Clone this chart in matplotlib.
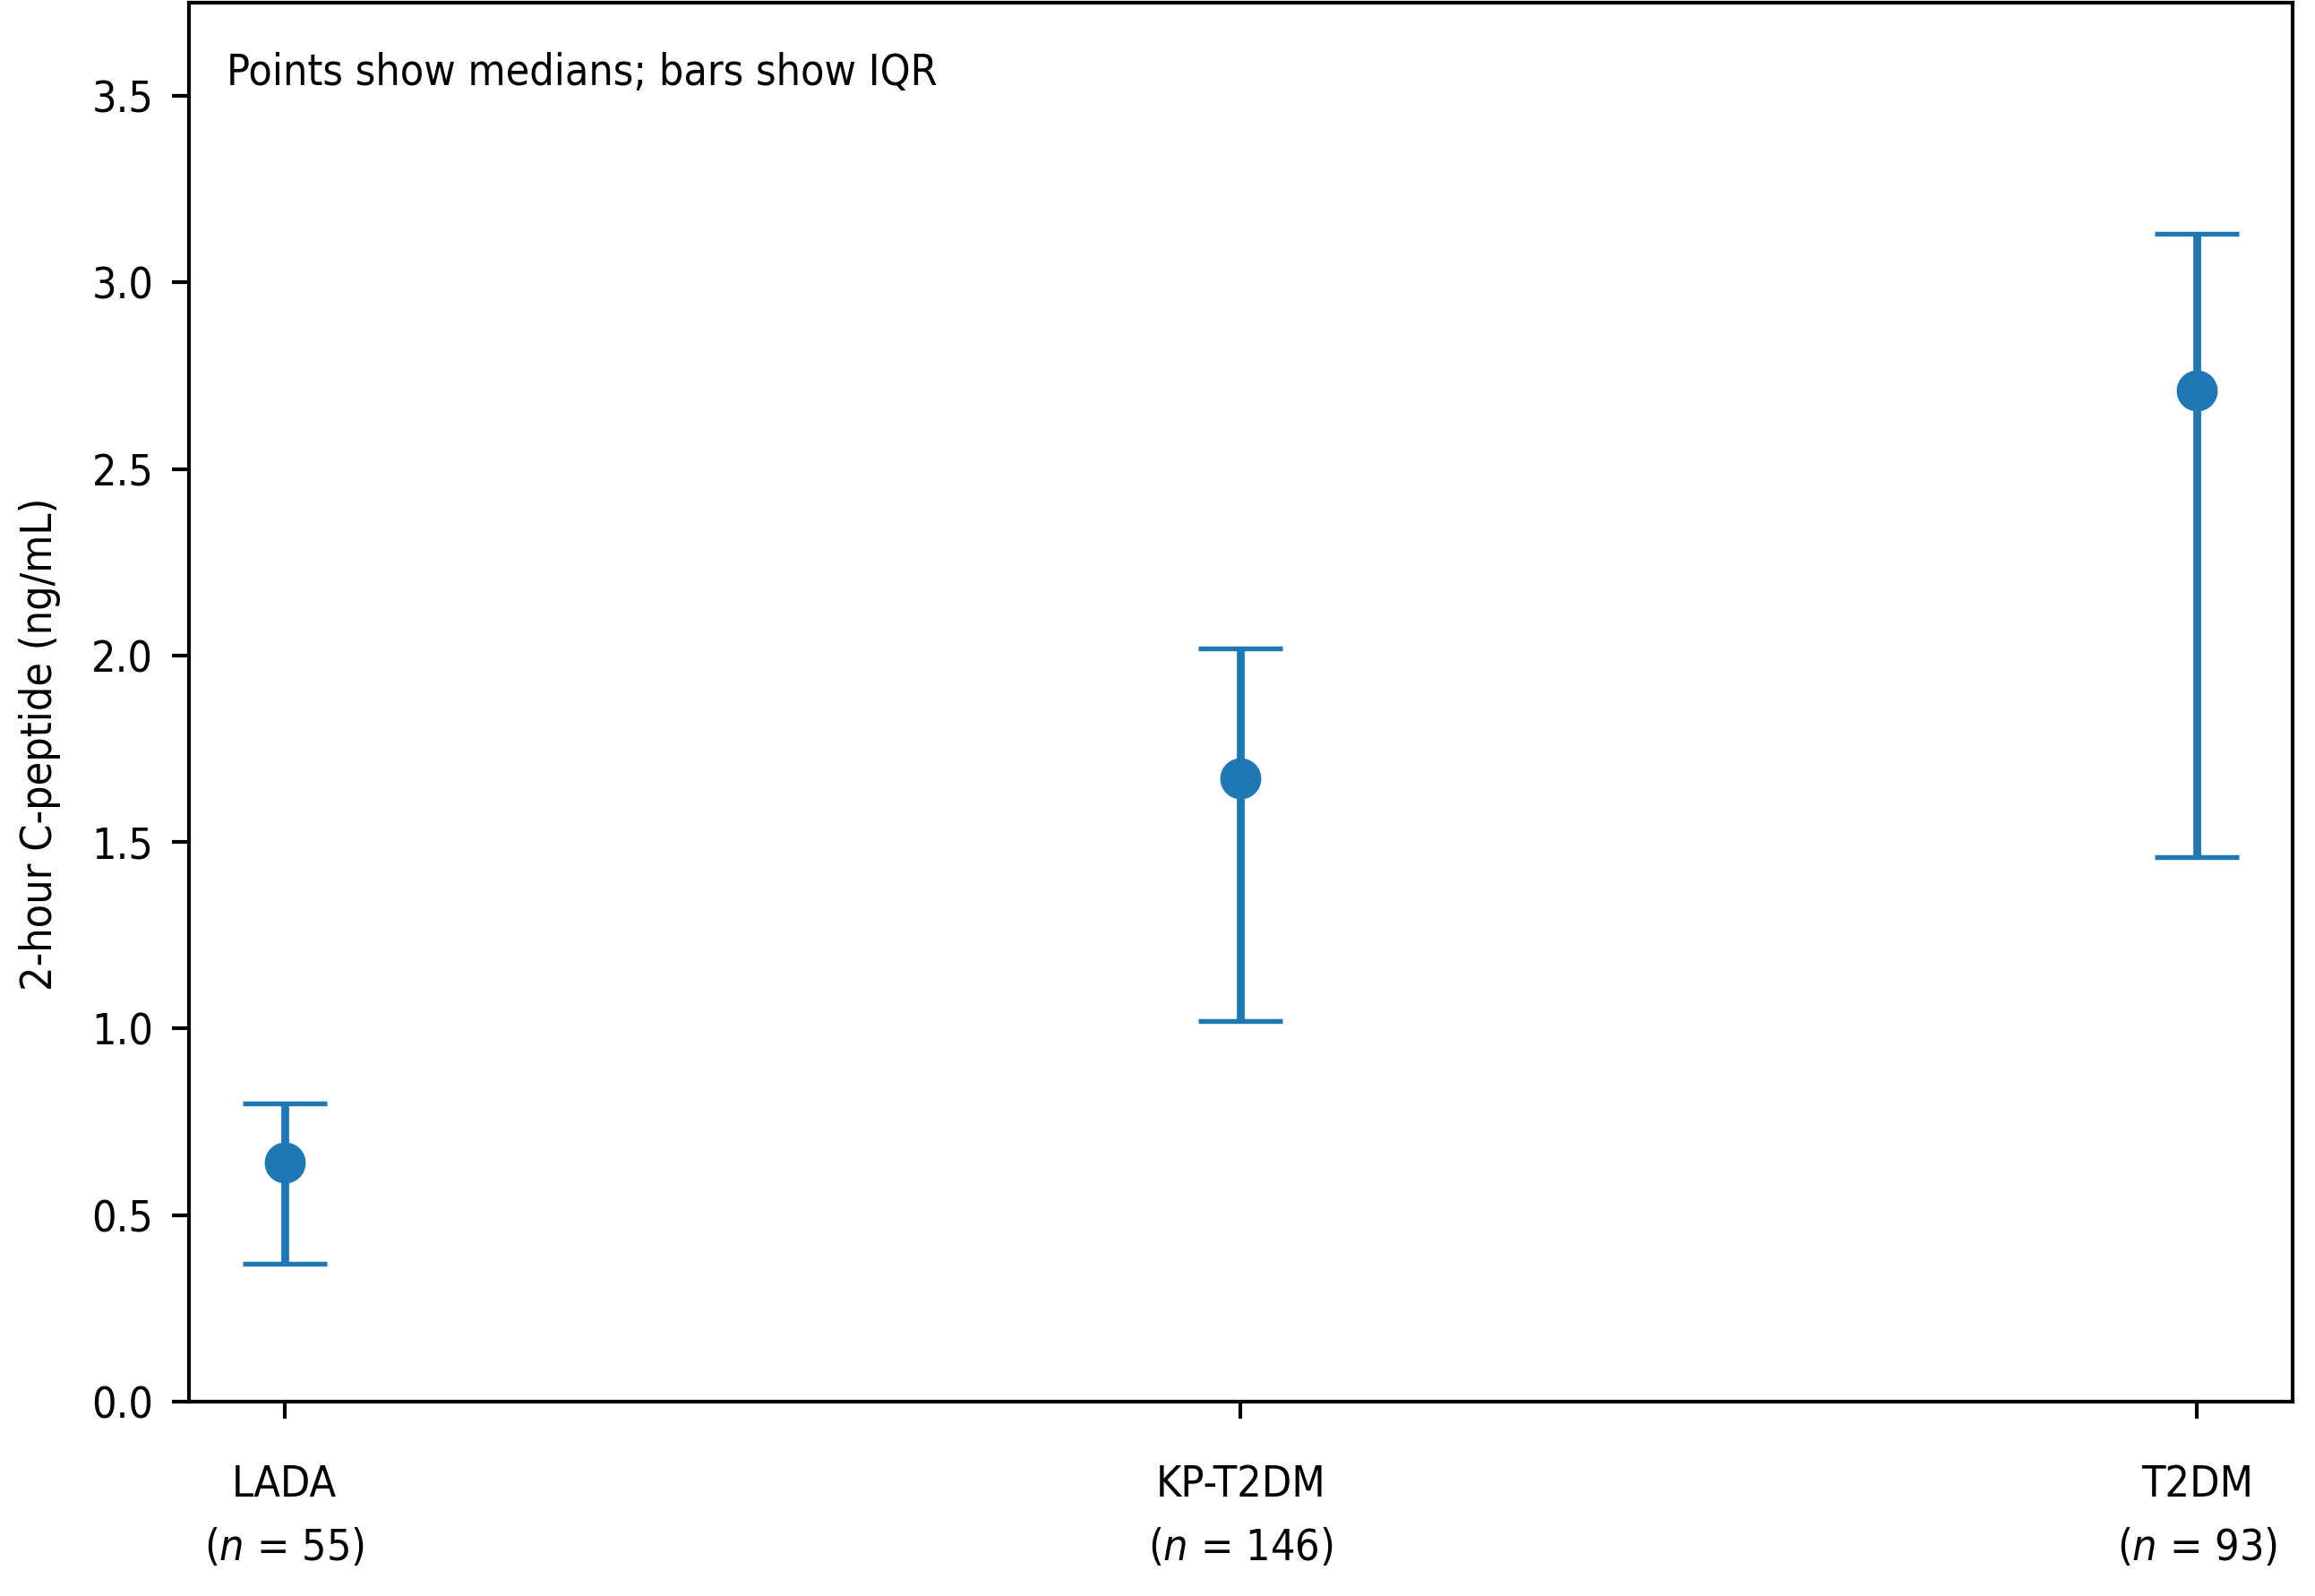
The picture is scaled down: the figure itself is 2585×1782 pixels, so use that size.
import numpy as np
import matplotlib
matplotlib.use('Agg')
from matplotlib import pyplot as plt

# data (medians and interquartile ranges, ng/mL)
groups = ['LADA', 'KP-T2DM', 'T2DM']
group_sizes = [55, 146, 93]
medians = [0.64, 1.67, 2.71]
q1_values = [0.37, 1.02, 1.46]
q3_values = [0.80, 2.02, 3.13]

COLOR = '#1f77b4'

plt.rcParams['font.family'] = ['DejaVu Sans']
plt.rcParams['font.stretch'] = 'condensed'
plt.rcParams['font.size'] = 11.6
plt.rcParams['mathtext.fontset'] = 'custom'
plt.rcParams['mathtext.it'] = 'DejaVu Sans:italic'
plt.rcParams['mathtext.rm'] = 'DejaVu Sans'

fig = plt.figure(figsize=(2585 / 300, 1782 / 300), dpi=300)
ax = fig.add_axes([0.0816, 0.1218, 0.9087, 0.8765])

x = np.arange(len(groups))
medians = np.asarray(medians)
lower_err = medians - np.asarray(q1_values)
upper_err = np.asarray(q3_values) - medians

ax.errorbar(x, medians, yerr=[lower_err, upper_err], fmt='o', color=COLOR,
            markersize=10, elinewidth=2.1, capsize=11.3, capthick=1.3)

ax.set_xlim(-0.1, 2.1)
ax.set_ylim(0, 3.75)
ax.set_yticks(np.arange(0, 3.51, 0.5))

tick_labels = [f'{g}\n($n$ = {n})' for g, n in zip(groups, group_sizes)]
ax.set_xticks(x)
ax.set_xticklabels(tick_labels, linespacing=1.65)

ax.tick_params(axis='x', length=4.5, width=1.0, pad=12)
ax.tick_params(axis='y', length=4.5, width=1.0, pad=5)
for spine in ax.spines.values():
    spine.set_linewidth(1.0)

ax.set_ylabel('2-hour C-peptide (ng/mL)')
ax.yaxis.set_label_coords(-0.061, 0.47)

ax.text(0.018, 0.965, 'Points show medians; bars show IQR', transform=ax.transAxes,
        ha='left', va='top')

fig.savefig('out.png', dpi=300)
